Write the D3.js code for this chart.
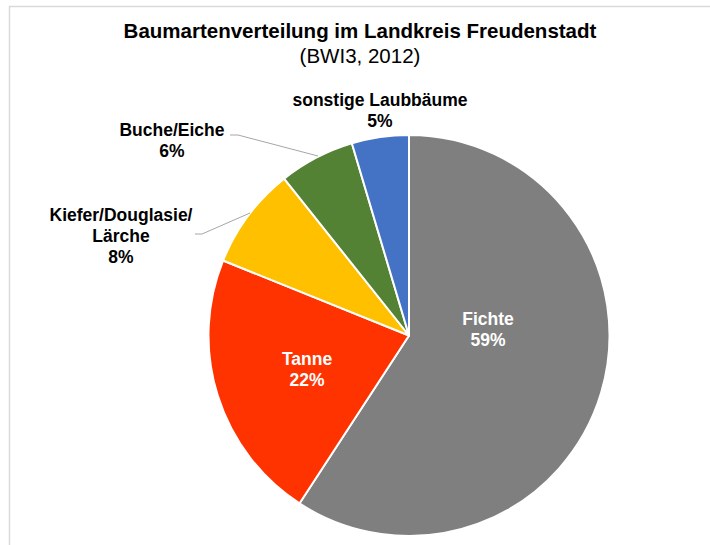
<!DOCTYPE html>
<html><head><meta charset="utf-8">
<script src="https://cdn.jsdelivr.net/npm/d3@7"></script>
<style>body{margin:0;background:#fff}svg{display:block}text{font-family:"Liberation Sans",Arial,sans-serif}</style>
</head><body>
<script>
const categories = ["Fichte","Tanne","Kiefer/Douglasie/Lärche","Buche/Eiche","sonstige Laubbäume"];
const values = [59.2, 21.9, 8.2, 6.1, 4.6];
const labelLines = [["Fichte"],["Tanne"],["Kiefer/Douglasie/","Lärche"],["Buche/Eiche"],["sonstige Laubbäume"]];
const colors = ["#7f7f7f","#ff3300","#ffc000","#548235","#4472c4"];
const title = "Baumartenverteilung im Landkreis Freudenstadt";
const subtitle = "(BWI3, 2012)";

const W=710,H=545;
const svg=d3.select("body").append("svg").attr("width",W).attr("height",H);
svg.append("rect").attr("x",9.5).attr("y",6.5).attr("width",720).attr("height",560)
  .attr("fill","none").attr("stroke","#d9d9d9").attr("stroke-width",1.5);

svg.append("text").attr("x",360).attr("y",37.5).attr("text-anchor","middle")
  .attr("font-size",20.5).attr("font-weight","bold").attr("fill","#000").text(title);
svg.append("text").attr("x",360).attr("y",63).attr("text-anchor","middle")
  .attr("font-size",20.5).attr("fill","#000").text(subtitle);

const cx=409, cy=335.5, r=200.5;
const data=categories.map((c,i)=>({c,v:values[i],lines:labelLines[i],col:colors[i]}));
const pie=d3.pie().value(d=>d.v).sort(null);
const arcs=pie(data);
const arc=d3.arc().innerRadius(0).outerRadius(r);
const g=svg.append("g").attr("transform",`translate(${cx},${cy})`);
g.selectAll("path").data(arcs).join("path").attr("d",arc)
  .attr("fill",d=>d.data.col).attr("stroke","#fff").attr("stroke-width",2).attr("stroke-linejoin","round");

const labelPos=[
  {x:488,y:325,inside:true},
  {x:307,y:365,inside:true},
  {x:121,y:221},
  {x:172,y:136},
  {x:380,y:106}
];
const leaders=[null,null,
  [[195,234],[202,234],[250,213]],
  [[230,135],[238,135],[318,156]],
  null];
svg.selectAll("polyline.l").data(leaders.filter(l=>l)).join("polyline")
  .attr("points",d=>d.map(p=>p.join(",")).join(" "))
  .attr("fill","none").attr("stroke","#a6a6a6").attr("stroke-width",1);

arcs.forEach((a,i)=>{
  const p=labelPos[i];
  const lines=a.data.lines.concat([Math.round(a.data.v)+"%"]);
  const t=svg.append("text").attr("text-anchor","middle").attr("font-size",17.5)
    .attr("font-weight","bold").attr("fill",p.inside?"#fff":"#000");
  lines.forEach((ln,k)=>{
    t.append("tspan").attr("x",p.x).attr("y",p.y+k*20.8).text(ln);
  });
});
</script>
</body></html>
